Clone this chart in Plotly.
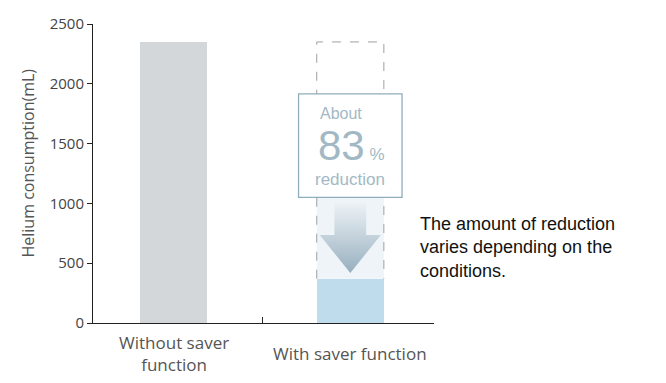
import plotly.graph_objects as go

categories = ["Without saver<br>function", "With saver function"]
values = [2350, 370]
reduction_pct = 83
y_ticks = [0, 500, 1000, 1500, 2000, 2500]
y_title = "Helium consumption(mL)"
note = "The amount of reduction<br>varies depending on the<br>conditions."

BAR_W = 0.38
xs = list(range(len(categories)))
base, saver = values[0], values[1]
cx = xs[1]

fig = go.Figure()
fig.add_trace(go.Bar(
    x=xs, y=values, width=BAR_W,
    marker=dict(color=["#d3d7da", "#bfdcec"], line=dict(width=0)),
    hoverinfo="skip", showlegend=False,
))

# box geometry (data units)
box_bottom = 1050
box_top = 1915
box_hw = 0.293

# arrow with vertical gradient
shaft_hw, head_hw = 0.09, 0.173
shaft_top, head_base, tip = 1012, 736, 418
ax = [cx - shaft_hw, cx + shaft_hw, cx + shaft_hw, cx + head_hw, cx, cx - head_hw, cx - shaft_hw, cx - shaft_hw]
ay = [shaft_top, shaft_top, head_base, head_base, tip, head_base, head_base, shaft_top]
fig.add_trace(go.Scatter(
    x=ax, y=ay, mode="lines", fill="toself", line=dict(width=0),
    fillgradient=dict(type="vertical", colorscale=[[0, "#97afbf"], [1, "#eef3f6"]]),
    hoverinfo="skip", showlegend=False,
))

xl, xr = cx - BAR_W / 2, cx + BAR_W / 2
shapes = [
    dict(type="rect", xref="x", yref="y", x0=xl, x1=xr,
         y0=saver, y1=box_bottom, fillcolor="#eef4f8", line=dict(width=0), layer="below"),
    dict(type="path", xref="x", yref="y",
         path=f"M {xl} {saver} L {xl} {base} L {xr} {base} L {xr} {saver}",
         line=dict(color="#a0a0a0", width=1, dash="dash"), layer="below"),
    dict(type="rect", xref="x", yref="y", x0=cx - box_hw, x1=cx + box_hw,
         y0=box_bottom, y1=box_top, fillcolor="white", line=dict(color="#8fadbc", width=1.3), layer="above"),
]

tc = "#a2b9c5"
bf = "Liberation Sans, Arial"
uf = "Open Sans"
annotations = [
    dict(x=cx - 0.185, y=1755, xref="x", yref="y", text="About", showarrow=False,
         xanchor="left", yanchor="middle", font=dict(family=bf, size=16, color=tc)),
    dict(x=cx - 0.196, y=1484, xref="x", yref="y",
         text=f"{reduction_pct}<span style='font-size:17px'> %</span>", showarrow=False,
         xanchor="left", yanchor="middle", font=dict(family=bf, size=42, color=tc)),
    dict(x=cx, y=1200, xref="x", yref="y", text="reduction", showarrow=False,
         xanchor="center", yanchor="middle", font=dict(family=bf, size=17, color=tc)),
    dict(x=0.953, y=635, xref="paper", yref="y", text=note, showarrow=False,
         xanchor="left", yanchor="middle", align="left",
         font=dict(family="Liberation Sans, Arial", size=18, color="#111")),
    dict(x=-93 / 341 + 27 / 341, y=0.5, xref="paper", yref="paper", yshift=10, text=y_title,
         showarrow=False, textangle=-90, xanchor="center", yanchor="middle",
         font=dict(family=uf, size=16, color="#555")),
]
for i, c in enumerate(categories):
    annotations.append(dict(x=xs[i], y=0, xref="x", yref="y", yshift=-30, text=c, showarrow=False,
                            xanchor="center", yanchor="middle",
                            font=dict(family=uf, size=17, color="#555")))

fig.update_layout(
    width=666, height=383,
    margin=dict(l=93, r=232, t=24, b=60),
    plot_bgcolor="white", paper_bgcolor="white",
    shapes=shapes, annotations=annotations,
    xaxis=dict(range=[-0.457, 1.474], showticklabels=False, tickvals=[0.5], ticks="inside",
               ticklen=6, tickcolor="#222", showgrid=False, zeroline=False,
               showline=True, linecolor="#222", linewidth=1, fixedrange=True),
    yaxis=dict(range=[0, 2500], tickvals=y_ticks, ticks="outside", ticklen=5, tickcolor="#222",
               showline=True, linecolor="#222", linewidth=1, showgrid=False, zeroline=False,
               tickfont=dict(family=uf, size=15, color="#444")),
    bargap=0,
)

fig.write_html("out.html")
